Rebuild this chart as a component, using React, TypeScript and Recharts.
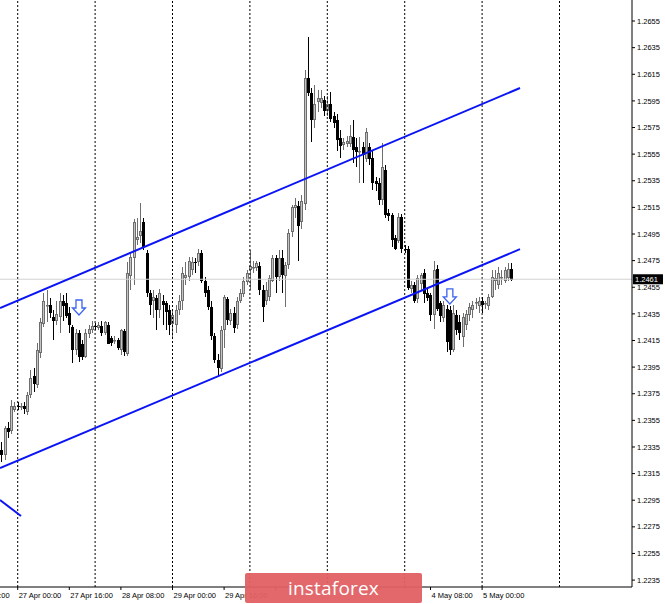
import React from 'react';
import { ComposedChart, Bar, XAxis, YAxis, ReferenceLine, ReferenceDot } from 'recharts';

// H1 candles, bar index 0 = 27 Apr 00:00
const firstBar = -5;
const opens = [
  1.2333, 1.2329, 1.2349, 1.2347, 1.2363,
  1.2366, 1.2365, 1.2366, 1.2361, 1.2374, 1.2388, 1.2382, 1.2406, 1.2428, 1.2441,
  1.2442, 1.2433, 1.2430, 1.2433, 1.2445, 1.2443, 1.2436, 1.2425, 1.2408, 1.2421,
  1.2412, 1.2403, 1.2420, 1.2423, 1.2426, 1.2425, 1.2426, 1.2421, 1.2427, 1.2417,
  1.2414, 1.2415, 1.2408, 1.2422, 1.2405, 1.2464, 1.2477, 1.2491, 1.2493, 1.2504,
  1.2481, 1.2451, 1.2445, 1.2447, 1.2438, 1.2445, 1.2443, 1.2438, 1.2427, 1.2427,
  1.2438, 1.2445, 1.2462, 1.2463, 1.2468, 1.2474, 1.2474, 1.2481, 1.2460, 1.2453,
  1.2440, 1.2418, 1.2400, 1.2394, 1.2423, 1.2446, 1.2430, 1.2436, 1.2427, 1.2445,
  1.2450, 1.2459, 1.2468, 1.2469, 1.2469, 1.2471, 1.2453, 1.2445, 1.2448, 1.2460,
  1.2477, 1.2463, 1.2477, 1.2464, 1.2472, 1.2496, 1.2515, 1.2516, 1.2504, 1.2517,
  1.2612, 1.2601, 1.2581, 1.2594, 1.2593, 1.2596, 1.2588, 1.2593, 1.2584, 1.2581,
  1.2567, 1.2562, 1.2563, 1.2563, 1.2568, 1.2560, 1.2556, 1.2560, 1.2552, 1.2560,
  1.2552, 1.2535, 1.2533, 1.2520, 1.2543, 1.2511, 1.2509, 1.2492, 1.2490, 1.2508,
  1.2484, 1.2484, 1.2454, 1.2457, 1.2446, 1.2457, 1.2466, 1.2451, 1.2449, 1.2434,
  1.2469, 1.2443, 1.2432, 1.2439, 1.2438, 1.2408, 1.2434, 1.2429, 1.2418, 1.2427,
  1.2434, 1.2438, 1.2443, 1.2441, 1.2445, 1.2442, 1.2441, 1.2448, 1.2460, 1.2457,
  1.2462, 1.2460, 1.2462, 1.2469,
];
const highs = [
  1.2339, 1.2351, 1.2354, 1.2370, 1.2369,
  1.2369, 1.2368, 1.2369, 1.2376, 1.2393, 1.2394, 1.2413, 1.2432, 1.2451, 1.2453,
  1.2447, 1.2438, 1.2445, 1.2451, 1.2449, 1.2451, 1.2440, 1.2427, 1.2424, 1.2423,
  1.2415, 1.2424, 1.2427, 1.2430, 1.2428, 1.2429, 1.2430, 1.2430, 1.2429, 1.2418,
  1.2418, 1.2417, 1.2424, 1.2424, 1.2474, 1.2481, 1.2506, 1.2507, 1.2518, 1.2507,
  1.2483, 1.2453, 1.2453, 1.2449, 1.2454, 1.2449, 1.2445, 1.2442, 1.2438, 1.2442,
  1.2449, 1.2470, 1.2474, 1.2478, 1.2478, 1.2477, 1.2484, 1.2483, 1.2463, 1.2456,
  1.2445, 1.2421, 1.2405, 1.2426, 1.2449, 1.2448, 1.2439, 1.2440, 1.2448, 1.2454,
  1.2463, 1.2468, 1.2483, 1.2475, 1.2475, 1.2474, 1.2457, 1.2459, 1.2464, 1.2479,
  1.2479, 1.2483, 1.2483, 1.2474, 1.2499, 1.2517, 1.2522, 1.2520, 1.2524, 1.2618,
  1.2643, 1.2605, 1.2607, 1.2603, 1.2603, 1.2599, 1.2599, 1.2602, 1.2587, 1.2585,
  1.2573, 1.2567, 1.2569, 1.2577, 1.2581, 1.2567, 1.2568, 1.2564, 1.2575, 1.2563,
  1.2558, 1.2538, 1.2537, 1.2563, 1.2547, 1.2514, 1.2511, 1.2494, 1.2511, 1.2510,
  1.2487, 1.2486, 1.2460, 1.2459, 1.2464, 1.2466, 1.2469, 1.2454, 1.2451, 1.2475,
  1.2472, 1.2445, 1.2445, 1.2442, 1.2441, 1.2442, 1.2438, 1.2434, 1.2436, 1.2438,
  1.2443, 1.2445, 1.2447, 1.2448, 1.2448, 1.2445, 1.2450, 1.2468, 1.2468, 1.2470,
  1.2468, 1.2470, 1.2473, 1.2473,
];
const lows = [
  1.2324, 1.2325, 1.2342, 1.2345, 1.2361,
  1.2363, 1.2363, 1.2360, 1.2359, 1.2372, 1.2376, 1.2379, 1.2402, 1.2425, 1.2429,
  1.2432, 1.2415, 1.2427, 1.2421, 1.2430, 1.2432, 1.2421, 1.2398, 1.2404, 1.2399,
  1.2400, 1.2402, 1.2417, 1.2421, 1.2423, 1.2423, 1.2418, 1.2419, 1.2412, 1.2411,
  1.2412, 1.2408, 1.2404, 1.2403, 1.2403, 1.2453, 1.2457, 1.2487, 1.2488, 1.2483,
  1.2448, 1.2434, 1.2432, 1.2423, 1.2432, 1.2427, 1.2423, 1.2419, 1.2417, 1.2421,
  1.2434, 1.2438, 1.2457, 1.2460, 1.2464, 1.2466, 1.2471, 1.2458, 1.2448, 1.2438,
  1.2415, 1.2398, 1.2388, 1.2391, 1.2409, 1.2427, 1.2427, 1.2421, 1.2424, 1.2443,
  1.2448, 1.2457, 1.2453, 1.2466, 1.2467, 1.2449, 1.2429, 1.2442, 1.2445, 1.2459,
  1.2451, 1.2460, 1.2451, 1.2440, 1.2469, 1.2493, 1.2507, 1.2475, 1.2499, 1.2513,
  1.2599, 1.2564, 1.2575, 1.2587, 1.2590, 1.2584, 1.2584, 1.2579, 1.2575, 1.2557,
  1.2552, 1.2558, 1.2560, 1.2560, 1.2548, 1.2545, 1.2533, 1.2533, 1.2549, 1.2547,
  1.2528, 1.2527, 1.2517, 1.2517, 1.2507, 1.2505, 1.2485, 1.2483, 1.2488, 1.2481,
  1.2481, 1.2453, 1.2451, 1.2443, 1.2443, 1.2453, 1.2443, 1.2445, 1.2430, 1.2424,
  1.2437, 1.2429, 1.2429, 1.2406, 1.2404, 1.2406, 1.2419, 1.2415, 1.2410, 1.2423,
  1.2430, 1.2432, 1.2439, 1.2436, 1.2436, 1.2439, 1.2438, 1.2447, 1.2453, 1.2454,
  1.2457, 1.2458, 1.2460, 1.2460,
];
const closes = [
  1.2329, 1.2349, 1.2346, 1.2366, 1.2366,
  1.2365, 1.2366, 1.2364, 1.2374, 1.2387, 1.2382, 1.2408, 1.2429, 1.2445, 1.2442,
  1.2436, 1.2430, 1.2435, 1.2445, 1.2441, 1.2433, 1.2427, 1.2408, 1.2421, 1.2403,
  1.2402, 1.2421, 1.2424, 1.2426, 1.2425, 1.2427, 1.2421, 1.2429, 1.2413, 1.2413,
  1.2415, 1.2409, 1.2423, 1.2406, 1.2466, 1.2478, 1.2504, 1.2493, 1.2497, 1.2485,
  1.2451, 1.2442, 1.2448, 1.2438, 1.2451, 1.2442, 1.2436, 1.2427, 1.2434, 1.2438,
  1.2445, 1.2466, 1.2464, 1.2475, 1.2474, 1.2473, 1.2481, 1.2460, 1.2451, 1.2440,
  1.2418, 1.2400, 1.2394, 1.2423, 1.2448, 1.2430, 1.2436, 1.2425, 1.2445, 1.2451,
  1.2460, 1.2466, 1.2471, 1.2470, 1.2473, 1.2453, 1.2440, 1.2453, 1.2462, 1.2477,
  1.2463, 1.2477, 1.2464, 1.2472, 1.2496, 1.2515, 1.2517, 1.2501, 1.2520, 1.2612,
  1.2601, 1.2581, 1.2593, 1.2597, 1.2597, 1.2588, 1.2593, 1.2582, 1.2579, 1.2566,
  1.2561, 1.2564, 1.2565, 1.2569, 1.2558, 1.2556, 1.2557, 1.2554, 1.2572, 1.2551,
  1.2533, 1.2533, 1.2520, 1.2545, 1.2509, 1.2509, 1.2490, 1.2484, 1.2508, 1.2484,
  1.2483, 1.2455, 1.2457, 1.2445, 1.2462, 1.2464, 1.2450, 1.2447, 1.2434, 1.2468,
  1.2439, 1.2433, 1.2442, 1.2414, 1.2408, 1.2436, 1.2423, 1.2421, 1.2433, 1.2435,
  1.2440, 1.2442, 1.2444, 1.2445, 1.2442, 1.2443, 1.2448, 1.2463, 1.2462, 1.2466,
  1.2463, 1.2468, 1.2469, 1.2461,
];

const yTicks = [
  1.2235, 1.2255, 1.2275, 1.2295, 1.2315, 1.2335, 1.2355, 1.2375, 1.2395, 1.2415,
  1.2435, 1.2455, 1.2475, 1.2495, 1.2515, 1.2535, 1.2555, 1.2575, 1.2595, 1.2615,
  1.2635, 1.2655,
];
const xTickIdx = [-16, 0, 16, 32, 48, 64, 80, 96, 112, 128, 144];
// labels of ticks fully hidden behind the watermark are left blank
const xTickLabels = [
  '24 Apr 08:00', '27 Apr 00:00', '27 Apr 16:00', '28 Apr 08:00', '29 Apr 00:00',
  '29 Apr 16:00', '', '', '', '4 May 08:00', '5 May 00:00',
];
const daySeparators = [0, 24, 48, 72, 96, 120, 144, 168];
const currentPrice = 1.2461;
const upperChannel = [{ x: -5.49, y: 1.24394 }, { x: 155.75, y: 1.26047 }];
const lowerChannel = [{ x: -5.49, y: 1.23192 }, { x: 155.75, y: 1.24836 }];
const oldLine = [{ x: -5.49, y: 1.22952 }, { x: 1.02, y: 1.22831 }];
const arrows = [{ x: 19, y: 1.24454 }, { x: 134, y: 1.24537 }];

const data = opens.map((o, k) => ({
  i: firstBar + k,
  open: o,
  high: highs[k],
  low: lows[k],
  close: closes[k],
  range: [lows[k], highs[k]],
}));

const FONT = 'Liberation Sans';

const Candle = (props: any) => {
  const { x, y, width, height, payload } = props;
  if (!payload || x == null) return null;
  const { open, close, high, low } = payload;
  const c = Math.round(x + width / 2);
  const top = Math.min(y, y + height);
  const h = Math.abs(height);
  const ppu = high === low ? 0 : h / (high - low);
  const yO = top + (high - open) * ppu;
  const yC = top + (high - close) * ppu;
  const bull = close >= open;
  const bTop = Math.round(Math.min(yO, yC));
  const bH = Math.max(Math.round(Math.abs(yO - yC)), 1);
  const color = bull ? '#6e6e6e' : '#000000';
  return (
    <g>
      <line x1={c + 0.5} x2={c + 0.5} y1={Math.round(top)} y2={Math.round(top + h)} stroke={color} strokeWidth={1} />
      {bull ? (
        <rect x={c - 0.5} y={bTop + 0.5} width={2} height={Math.max(bH - 1, 0.5)} fill="#c4c4c4" stroke={color} strokeWidth={1} />
      ) : (
        <rect x={c - 1} y={bTop} width={3} height={bH} fill="#000000" />
      )}
    </g>
  );
};

const XTick = (props: any) => {
  const { x, y, payload } = props;
  const k = xTickIdx.indexOf(payload.value);
  const label = k >= 0 ? xTickLabels[k] : '';
  if (!label) return null;
  return (
    <text x={x + 1} y={y + 8} fontSize={7.5} fontFamily={FONT} fill="#000" textAnchor="start">
      {label}
    </text>
  );
};

const DownArrow = (props: any) => {
  const { cx, cy } = props;
  if (cx == null) return null;
  const d = `M${cx - 3},${cy} L${cx + 3},${cy} L${cx + 3},${cy + 8} L${cx + 6.5},${cy + 8} L${cx},${cy + 15} L${cx - 6.5},${cy + 8} L${cx - 3},${cy + 8} Z`;
  return <path d={d} fill="#ffffff" stroke="#3c64f0" strokeWidth={1.3} />;
};

const PriceTag = (props: any) => {
  const vb = props.viewBox || {};
  const x0 = (vb.x || 0) + (vb.width || 0) + 1;
  const y0 = vb.y || 0;
  return (
    <g>
      <rect x={x0} y={y0 - 5} width={30} height={10} fill="#000" />
      <text x={x0 + 2} y={y0 + 3} fontSize={7.5} fontFamily={FONT} fill="#fff">
        {currentPrice.toFixed(4)}
      </text>
    </g>
  );
};

export default function App() {
  return (
    <div style={{ position: 'absolute', left: 0, top: 0, width: 665, height: 604, background: '#fff' }}>
      <ComposedChart width={665} height={604} data={data} margin={{ top: 0, right: 0, bottom: 0, left: 0 }}>
        <XAxis
          dataKey="i"
          type="number"
          domain={[-5.49, 190.48]}
          allowDataOverflow
          ticks={xTickIdx}
          interval={0}
          tick={<XTick />}
          tickSize={3}
          tickMargin={0}
          tickLine={{ stroke: '#000' }}
          axisLine={{ stroke: '#000' }}
          height={17}
        />
        <YAxis
          orientation="right"
          type="number"
          domain={[1.22298, 1.26708]}
          allowDataOverflow
          ticks={yTicks}
          interval={0}
          width={33}
          tickSize={3}
          tickMargin={2}
          tickLine={{ stroke: '#000' }}
          axisLine={{ stroke: '#000' }}
          tick={{ fill: '#000', fontSize: 7.5, fontFamily: FONT }}
          tickFormatter={(v: number) => v.toFixed(4)}
        />
        {daySeparators.map((d) => (
          <ReferenceLine key={'d' + d} x={d} stroke="#000" strokeDasharray="2 2" strokeWidth={1} />
        ))}
        <ReferenceLine y={currentPrice} stroke="#d2d2d2" strokeWidth={1} label={<PriceTag />} />
        <Bar dataKey="range" barSize={3} isAnimationActive={false} shape={(p: any) => <Candle {...p} />} />
        <ReferenceLine segment={upperChannel} stroke="#0a14f5" strokeWidth={2} ifOverflow="visible" />
        <ReferenceLine segment={lowerChannel} stroke="#0a14f5" strokeWidth={2} ifOverflow="visible" />
        <ReferenceLine segment={oldLine} stroke="#0a14f5" strokeWidth={2} ifOverflow="visible" />
        {arrows.map((a, k) => (
          <ReferenceDot key={'a' + k} x={a.x} y={a.y} r={1} shape={(p: any) => <DownArrow {...p} />} />
        ))}
      </ComposedChart>
      <div
        style={{
          position: 'absolute',
          left: 245,
          top: 573,
          width: 177,
          height: 30,
          background: 'rgba(226,96,99,0.95)',
          borderRadius: 2,
          color: '#fff',
          fontFamily: 'Open Sans',
          fontSize: 19,
          lineHeight: '30px',
          textAlign: 'center',
          letterSpacing: 0.2,
        }}
      >
        instaforex
      </div>
    </div>
  );
}
